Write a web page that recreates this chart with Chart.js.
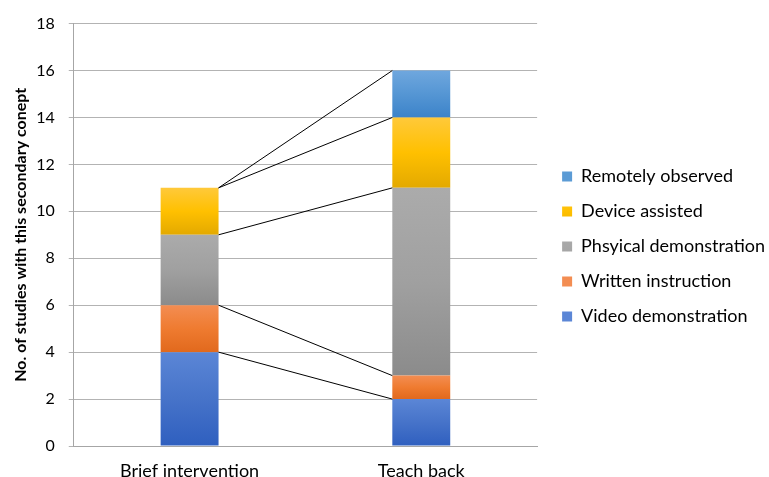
<!DOCTYPE html>
<html>
<head>
<meta charset="utf-8">
<script src="https://cdn.jsdelivr.net/npm/chart.js@4/dist/chart.umd.min.js"></script>
<style>
  html, body { margin: 0; padding: 0; background: #fff; }
  #wrap { width: 769px; height: 477px; }
</style>
</head>
<body>
<div id="wrap"><canvas id="stackChart"></canvas></div>
<script>
const categories = ['Brief intervention', 'Teach back'];
const seriesNames = ['Video demonstration', 'Written instruction', 'Phsyical demonstration', 'Device assisted', 'Remotely observed'];
const videoDemo = [4, 2];
const writtenInstr = [2, 1];
const physicalDemo = [3, 8];
const deviceAssisted = [2, 3];
const remotelyObserved = [0, 2];
const yTicks = [0, 2, 4, 6, 8, 10, 12, 14, 16, 18];

const seriesValues = [videoDemo, writtenInstr, physicalDemo, deviceAssisted, remotelyObserved];
// solid colour (legend) and gradient stops top -> bottom
const solid = ['#4472c4', '#ed7d31', '#a5a5a5', '#ffc000', '#5b9bd5'];
const grads = [
    ['#5b86d6', '#4673c9', '#2f5fbf'],
    ['#f38d52', '#ef7b30', '#e1691d'],
    ['#ababab', '#a0a0a0', '#8b8b8b'],
    ['#ffc93a', '#ffc000', '#e3a900'],
    ['#6fa7de', '#5596d4', '#3c83c9']
];

function cumulative(dsIndex, catIndex) {
    let sum = 0;
    for (let i = 0; i <= dsIndex; i++) sum += seriesValues[i][catIndex];
    return sum;
}

function segmentFill(c) {
    const i = c.datasetIndex;
    if (c.type !== 'data') return solid[i];
    const chart = c.chart;
    const y = chart.scales.y;
    if (!chart.chartArea || !y) return solid[i];
    const top = y.getPixelForValue(cumulative(i, c.dataIndex));
    const bottom = y.getPixelForValue(cumulative(i, c.dataIndex) - seriesValues[i][c.dataIndex]);
    if (!isFinite(top) || !isFinite(bottom) || top === bottom) return solid[i];
    const g = chart.ctx.createLinearGradient(0, top, 0, bottom);
    g.addColorStop(0, grads[i][0]);
    g.addColorStop(0.5, grads[i][1]);
    g.addColorStop(1, grads[i][2]);
    return g;
}

// Excel style series lines between the stacked segments
const seriesLines = {
    id: 'seriesLines',
    afterDatasetsDraw(chart) {
        const ctx = chart.ctx;
        const y = chart.scales.y;
        ctx.save();
        ctx.strokeStyle = '#000';
        ctx.lineWidth = 1;
        seriesValues.forEach((vals, i) => {
            const meta = chart.getDatasetMeta(i);
            const b0 = meta.data[0], b1 = meta.data[1];
            const x0 = b0.x + b0.width / 2;
            const x1 = b1.x - b1.width / 2;
            ctx.beginPath();
            ctx.moveTo(x0, y.getPixelForValue(cumulative(i, 0)));
            ctx.lineTo(x1, y.getPixelForValue(cumulative(i, 1)));
            ctx.stroke();
        });
        ctx.restore();
    }
};

// leave a wider gap between the plot and the legend swatches, lift it a bit
const legendGap = {
    id: 'legendGap',
    afterLayout(chart) {
        if (chart.legend) {
            chart.legend.left += 8;
            chart.legend.right += 8;
            chart.legend.top -= 10;
            chart.legend.bottom -= 10;
        }
    }
};

const ctx = document.getElementById('stackChart').getContext('2d');
const chart = new Chart(ctx, {
    type: 'bar',
    data: {
        labels: categories,
        datasets: seriesNames.map((name, i) => ({
            label: name,
            data: seriesValues[i],
            backgroundColor: segmentFill,
            borderWidth: 0,
            barPercentage: 0.25,
            categoryPercentage: 1.0
        }))
    },
    options: {
        responsive: true,
        maintainAspectRatio: false,
        animation: false,
        layout: { autoPadding: false, padding: { left: 4, right: 2, top: 17, bottom: -19 } },
        plugins: {
            tooltip: { enabled: false },
            legend: {
                position: 'right',
                reverse: true,
                maxWidth: 320,
                labels: {
                    font: { family: 'Lato', size: 18 },
                    color: '#000',
                    boxWidth: 10,
                    boxHeight: 10,
                    padding: 17
                }
            }
        },
        scales: {
            x: {
                stacked: true,
                grid: { display: false, drawTicks: false, tickLength: 0 },
                border: { color: '#a6a6a6' },
                ticks: { color: '#000', font: { family: 'Lato', size: 18, lineHeight: 1 }, padding: 16 }
            },
            y: {
                stacked: true,
                min: 0,
                max: 18,
                afterBuildTicks: (axis) => { axis.ticks = yTicks.map(v => ({ value: v })); },
                grid: { color: '#b3b3b3', tickLength: 5, tickColor: '#b3b3b3' },
                border: { color: '#a6a6a6' },
                ticks: { color: '#000', font: { family: 'Lato', size: 16 }, padding: 14 },
                title: {
                    display: true,
                    text: 'No. of studies with this secondary conept',
                    color: '#000',
                    font: { family: 'Lato', size: 16, weight: 'bold' },
                    padding: { top: 7, bottom: -8 }
                }
            }
        }
    },
    plugins: [seriesLines, legendGap]
});
</script>
</body>
</html>
